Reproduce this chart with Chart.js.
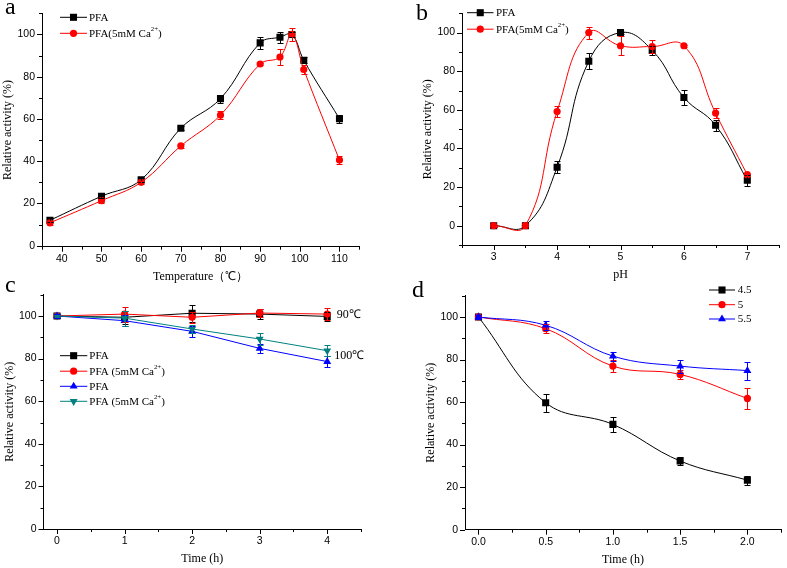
<!DOCTYPE html>
<html>
<head>
<meta charset="utf-8">
<script src="https://cdn.jsdelivr.net/npm/chart.js@4/dist/chart.umd.min.js"></script>
<style>
  body { margin: 0; background: #fff; }
  #wrap { position: relative; width: 787px; height: 568px; }
  canvas { position: absolute; left: 0; top: 0; }
</style>
</head>
<body>
<div id="wrap">
  <canvas id="chartA" width="787" height="568"></canvas>
  <canvas id="chartB" width="787" height="568"></canvas>
  <canvas id="chartC" width="787" height="568"></canvas>
  <canvas id="chartD" width="787" height="568"></canvas>
</div>
<script>
// a: temperature
const tempC = [37, 50, 60, 70, 80, 90, 95, 98, 101, 110]
const tempPFA = [12, 23.4, 31.2, 55.6, 69.6, 96, 98.7, 100, 87.8, 60.1]
const tempPFAErr = [1, 1, 1, 1, 1.9, 2.7, 2.6, 1, 1.5, 1.9]
const tempCa = [10.8, 21.3, 30, 47.2, 61.8, 86, 89.3, 100, 83.4, 40.5]
const tempCaErr = [1, 1, 0.8, 0.8, 1.9, 0.5, 3.7, 3, 2, 2]

// b: pH
const phValues = [3, 3.5, 4, 4.5, 5, 5.5, 6, 6.5, 7]
const phPFA = [0, 0, 30.3, 85.2, 100, 90.8, 66.4, 52, 23.5]
const phPFAErr = [0.5, 0.5, 3.2, 4, 0.5, 2.5, 4, 2.8, 2.7]
const phCa = [0, 0, 59.1, 100, 93.2, 92.8, 93.2, 58.3, 26.4]
const phCaErr = [0.5, 0.5, 2.8, 3.1, 4.9, 3.2, 0.5, 2.7, 0.5]

// c: thermostability at 90 and 100 C
const thermoHours = [0, 1, 2, 3, 4]
const pfa90 = [100, 99.4, 101.3, 100.9, 99.8]
const pfa90Err = [1, 3, 4, 2.5, 2]
const ca90 = [100, 100.9, 99.4, 101.4, 100.9]
const ca90Err = [0.5, 3.5, 2.5, 2, 3]
const pfa100 = [100, 97.8, 92.8, 84.8, 78.6]
const pfa100Err = [1, 2.5, 2.5, 2, 2.5]
const ca100 = [100, 99, 93.9, 89.2, 83.7]
const ca100Err = [0.5, 3.5, 2, 3, 2.5]
const thermoNames = ['PFA', 'PFA (5mM Ca2+)', 'PFA', 'PFA (5mM Ca2+)']

// d: pH stability
const stabHours = [0, 0.5, 1.0, 1.5, 2.0]
const ph45 = [100, 59.7, 49.5, 32.3, 23.3]
const ph45Err = [1, 4.3, 3.4, 2, 2.1]
const ph5 = [100, 94.5, 76.9, 73, 61.7]
const ph5Err = [1, 2, 3, 2, 4.9]
const ph55 = [100, 96.1, 81.6, 76.9, 74.8]
const ph55Err = [1, 2.1, 2.1, 3.1, 4.2]
const stabNames = ['4.5', '5', '5.5']

const SERIF = '"Liberation Serif", "Times New Roman", serif'
const SANS = '"Liberation Sans", Arial, sans-serif'
Chart.defaults.color = '#000'

function marker(ctx, style, rot, r, x, y) {
  ctx.beginPath()
  if (style === 'rect') {
    const s = r * Math.SQRT1_2
    ctx.rect(x - s, y - s, 2 * s, 2 * s)
  } else if (style === 'circle') {
    ctx.arc(x, y, r, 0, Math.PI * 2)
  } else {
    let a = (rot || 0) * Math.PI / 180
    for (let k = 0; k < 3; k++) {
      const px = x + Math.sin(a) * r, py = y - Math.cos(a) * r
      if (k) ctx.lineTo(px, py); else ctx.moveTo(px, py)
      a += 2 * Math.PI / 3
    }
    ctx.closePath()
  }
  ctx.fill()
}

// text with "2+" raised as a superscript
function richText(ctx, text, x, y, size) {
  const parts = text.split(/(\d\+)/)
  parts.forEach(p => {
    if (!p) return
    const sup = /^\d\+$/.test(p)
    ctx.font = (sup ? size * 0.62 : size) + 'px ' + SERIF
    ctx.fillText(p, x, sup ? y - size * 0.38 : y)
    x += ctx.measureText(p).width
  })
}

const errorBars = {
  id: 'errorBars',
  afterDatasetsDraw(chart) {
    const ctx = chart.ctx
    const ys = chart.scales.y
    chart.data.datasets.forEach((ds, i) => {
      if (!ds.errors) return
      const meta = chart.getDatasetMeta(i)
      ctx.save()
      ctx.strokeStyle = ds.borderColor
      ctx.lineWidth = 1
      meta.data.forEach((pt, j) => {
        const e = ds.errors[j]
        if (!e) return
        const v = ds.data[j].y
        const top = Math.round(ys.getPixelForValue(v + e)) + 0.5
        const bot = Math.round(ys.getPixelForValue(v - e)) + 0.5
        const x = Math.round(pt.x) + 0.5
        ctx.beginPath()
        ctx.moveTo(x, top); ctx.lineTo(x, bot)
        ctx.moveTo(x - 3, top); ctx.lineTo(x + 3, top)
        ctx.moveTo(x - 3, bot); ctx.lineTo(x + 3, bot)
        ctx.stroke()
      })
      ctx.restore()
    })
  }
}

// outward ticks: long where a label is shown, short otherwise
const originTicks = {
  id: 'originTicks',
  afterDraw(chart) {
    const ctx = chart.ctx
    ctx.save()
    ctx.strokeStyle = '#000'
    ctx.lineWidth = 1
    ctx.beginPath()
    const xs = chart.scales.x, ys = chart.scales.y
    xs.ticks.forEach(t => {
      const p = Math.round(xs.getPixelForValue(t.value)) + 0.5
      const len = t.label !== '' ? 5 : 3
      ctx.moveTo(p, xs.top); ctx.lineTo(p, xs.top + len)
    })
    ys.ticks.forEach(t => {
      const p = Math.round(ys.getPixelForValue(t.value)) + 0.5
      const len = t.label !== '' ? 5 : 3
      ctx.moveTo(ys.right, p); ctx.lineTo(ys.right - len, p)
    })
    ctx.stroke()
    ctx.restore()
  }
}

const boxLegend = {
  id: 'boxLegend',
  afterDraw(chart, args, opts) {
    const ctx = chart.ctx
    if (opts.rows) {
      chart.data.datasets.forEach((ds, i) => {
        const y = opts.rows[i]
        ctx.save()
        ctx.strokeStyle = ds.borderColor
        ctx.lineWidth = 1
        ctx.beginPath()
        ctx.moveTo(opts.x0, y); ctx.lineTo(opts.x1, y)
        ctx.stroke()
        ctx.fillStyle = ds.pointBackgroundColor
        marker(ctx, ds.pointStyle, ds.pointRotation, ds.pointRadius, (opts.x0 + opts.x1) / 2, y)
        ctx.fillStyle = '#000'
        ctx.textBaseline = 'middle'
        ctx.textAlign = 'left'
        richText(ctx, ds.label, opts.textX, y + 0.5, opts.size)
        ctx.restore()
      })
    }
    (opts.texts || []).forEach(t => {
      ctx.save()
      ctx.fillStyle = '#000'
      ctx.textAlign = 'left'
      ctx.textBaseline = t.base || 'middle'
      ctx.font = t.size + 'px ' + SERIF
      ctx.fillText(t.t, t.x, t.y)
      ctx.restore()
    })
  }
}

function series(label, xs, ys, errs, color, style, rot, idx, tension) {
  return {
    label,
    data: xs.map((x, i) => ({x, y: ys[i]})),
    errors: errs,
    order: -idx,
    borderColor: color,
    backgroundColor: color,
    borderWidth: 1,
    pointStyle: style,
    pointRotation: rot,
    pointRadius: style === 'circle' ? 3.6 : (style === 'rect' ? 5 : 4.6),
    pointBackgroundColor: color,
    pointBorderColor: color,
    pointBorderWidth: 0,
    tension,
    fill: false
  }
}

function xAxis(min, max, step, title, fmt) {
  return {
    type: 'linear', min, max,
    title: {display: true, text: title, font: {family: SERIF, size: 12, lineHeight: 1}, padding: {top: 0, bottom: 4}},
    ticks: {stepSize: step, includeBounds: false, autoSkip: false, maxRotation: 0, padding: 6,
            font: {family: SANS, size: 10.5}, callback: fmt},
    grid: {drawOnChartArea: false, drawTicks: false},
    border: {color: '#000'},
    afterFit(s) { s.height = 40 }
  }
}

function yAxis(min, max) {
  return {
    type: 'linear', min, max,
    title: {display: true, text: 'Relative activity (%)', font: {family: SERIF, size: 12, lineHeight: 1}, padding: {top: 0, bottom: 0}},
    ticks: {stepSize: 10, includeBounds: false, autoSkip: false, padding: 7,
            font: {family: SANS, size: 10.5},
            callback: v => (v >= 0 && v <= 100 && Math.abs(v % 20) < 1e-9) ? v : ''},
    grid: {drawOnChartArea: false, drawTicks: false},
    border: {color: '#000'},
    afterFit(s) { s.width = 40 }
  }
}

function panel(id, area, datasets, xs, ys, legend) {
  new Chart(document.getElementById(id), {
    type: 'line',
    data: {datasets},
    options: {
      responsive: false,
      animation: false,
      layout: {padding: {left: area.l - 40, top: area.t, right: 787 - area.r, bottom: 568 - area.b - 40}},
      scales: {x: xs, y: ys},
      plugins: {legend: {display: false}, tooltip: {enabled: false}, boxLegend: legend}
    },
    plugins: [errorBars, originTicks, boxLegend]
  })
}

const isStep = (v, s) => Math.abs(v / s - Math.round(v / s)) < 1e-9

panel('chartA', {l: 42, t: 11.7, r: 359.3, b: 246.7}, [
  series('PFA', tempC, tempPFA, tempPFAErr, '#000000', 'rect', 0, 0, 0.4),
  series('PFA(5mM Ca2+)', tempC, tempCa, tempCaErr, '#ff0000', 'circle', 0, 1, 0.4)
], xAxis(35, 115, 5, 'Temperature（℃）', v => (isStep(v, 10) && v >= 40 && v <= 110) ? v : ''),
   yAxis(-0.5, 110),
   {x0: 60, x1: 87, textX: 89, rows: [17.3, 33.3], size: 11,
    texts: [{t: 'a', x: 5, y: 14, size: 24, base: 'alphabetic'}]})

panel('chartB', {l: 462, t: 10, r: 779, b: 245}, [
  series('PFA', phValues, phPFA, phPFAErr, '#000000', 'rect', 0, 0, 0.45),
  series('PFA(5mM Ca2+)', phValues, phCa, phCaErr, '#ff0000', 'circle', 0, 1, 0.45)
], xAxis(2.5, 7.5, 0.5, 'pH', v => (isStep(v, 1) && v >= 3 && v <= 7) ? v : ''),
   yAxis(-10, 110),
   {x0: 467, x1: 493.5, textX: 496, rows: [12.7, 29.2], size: 11,
    texts: [{t: 'b', x: 416, y: 20, size: 24, base: 'alphabetic'}]})

panel('chartC', {l: 43.5, t: 294.7, r: 361, b: 529}, [
  series(thermoNames[0], thermoHours, pfa90, pfa90Err, '#000000', 'rect', 0, 0, 0),
  series(thermoNames[1], thermoHours, ca90, ca90Err, '#ff0000', 'circle', 0, 1, 0),
  series(thermoNames[2], thermoHours, pfa100, pfa100Err, '#0000ff', 'triangle', 0, 2, 0),
  series(thermoNames[3], thermoHours, ca100, ca100Err, '#008080', 'triangle', 180, 3, 0)
], xAxis(-0.2, 4.5, 0.5, 'Time (h)', v => (isStep(v, 1) && v >= 0 && v <= 4) ? v : ''),
   yAxis(0, 110),
   {x0: 60, x1: 87.3, textX: 89.3, rows: [355.7, 371.2, 386.3, 401.3], size: 11,
    texts: [{t: 'c', x: 5, y: 292, size: 24, base: 'alphabetic'},
            {t: '90℃', x: 336.7, y: 315, size: 12},
            {t: '100℃', x: 334.3, y: 355.7, size: 12}]})

panel('chartD', {l: 465, t: 295.7, r: 782.3, b: 529.7}, [
  series(stabNames[0], stabHours, ph45, ph45Err, '#000000', 'rect', 0, 0, 0.4),
  series(stabNames[1], stabHours, ph5, ph5Err, '#ff0000', 'circle', 0, 1, 0.4),
  series(stabNames[2], stabHours, ph55, ph55Err, '#0000ff', 'triangle', 0, 2, 0.4)
], xAxis(-0.1, 2.25, 0.25, 'Time (h)', v => (isStep(v, 0.5) && v >= 0 && v <= 2) ? v.toFixed(1) : ''),
   yAxis(0, 110),
   {x0: 709, x1: 735, textX: 737.7, rows: [290, 304.7, 319], size: 11,
    texts: [{t: 'd', x: 412, y: 297, size: 24, base: 'alphabetic'}]})
</script>
</body>
</html>
